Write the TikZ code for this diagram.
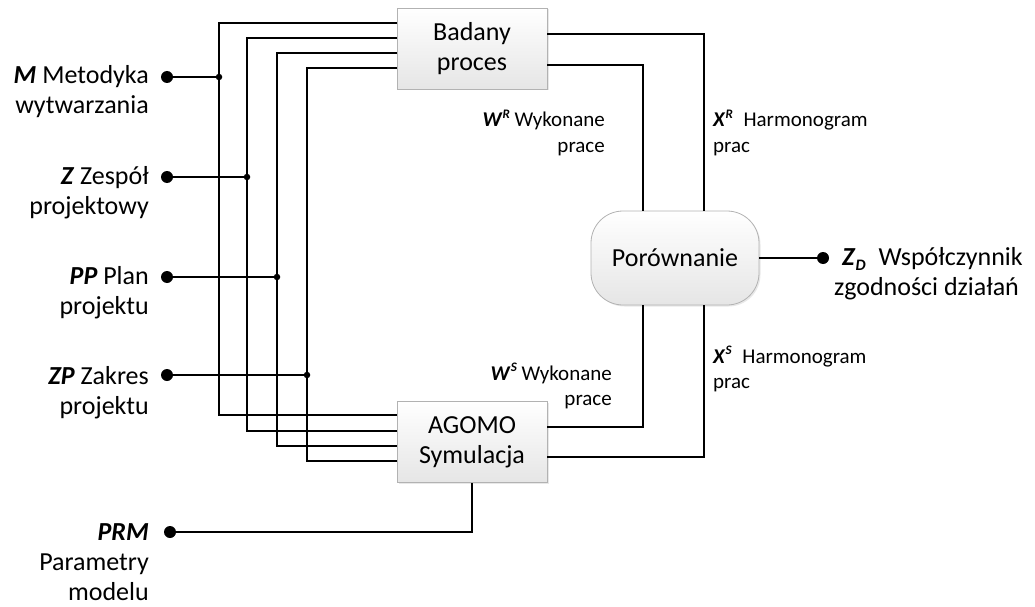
\documentclass[tikz,border=0pt]{standalone}
\usepackage{fontspec}
\setmainfont{Carlito}
\usetikzlibrary{shadows}
\newcommand\bitx[1]{\textbf{\textit{#1}}}
\newcommand\supx[1]{\raisebox{0.42em}{\fontsize{13}{13}\selectfont\bitx{#1}}}
\newcommand\subx[1]{\raisebox{-0.2em}{\fontsize{16}{16}\selectfont\bitx{#1}}}
\newcommand\rlines[1]{\begin{tabular}[t]{@{}r@{}}#1\end{tabular}}
\newcommand\llines[1]{\begin{tabular}[t]{@{}l@{}}#1\end{tabular}}
\begin{document}
\begin{tikzpicture}[x=1pt,y=-1pt,
  wire/.style={line width=2.2pt, line join=miter},
  blk/.style={draw=gray!60, line width=0.8pt, top color=white, bottom color=gray!20,
    minimum width=150pt, minimum height=81pt, inner sep=0pt, align=center,
    font=\fontsize{26}{30}\selectfont,
    drop shadow={opacity=0.18, shadow xshift=1.5pt, shadow yshift=-1.5pt}},
  cmp/.style={blk, minimum width=168pt, minimum height=94pt, rounded corners=32pt},
  term/.style={circle, fill=black, inner sep=0pt, minimum size=12pt},
  junc/.style={circle, fill=black, inner sep=0pt, minimum size=6.5pt},
  big/.style={inner sep=0pt, font=\fontsize{26}{30}\selectfont},
  small/.style={inner sep=0pt, font=\fontsize{21}{25.5}\selectfont}
]
\useasboundingbox (0,0) rectangle (1035,607);

% process blocks
\node[blk] (bad) at (472,48.5) {Badany\\proces};
\node[blk] (ago) at (472,442) {AGOMO\\Symulacja};
\node[cmp] (por) at (675,258) {Porównanie};

% input terminals and branch points
\node[term] (m)   at (167,77)  {};
\node[term] (z)   at (167,177) {};
\node[term] (pp)  at (167,277) {};
\node[term] (zp)  at (167,375) {};
\node[term] (prm) at (170,532) {};
\node[junc] (jm)  at (219,77)  {};
\node[junc] (jz)  at (247,177) {};
\node[junc] (jpp) at (277,277) {};
\node[junc] (jzp) at (307,375) {};
\node[term] (zd)  at (823,258) {};

% inputs feeding both the real process and the simulation
\draw[wire] (m) -- (jm);
\draw[wire] (bad.west |- 0,23) -| (jm) |- (ago.west |- 0,415);
\draw[wire] (z) -- (jz);
\draw[wire] (bad.west |- 0,38) -| (jz) |- (ago.west |- 0,431);
\draw[wire] (pp) -- (jpp);
\draw[wire] (bad.west |- 0,53) -| (jpp) |- (ago.west |- 0,446);
\draw[wire] (zp) -- (jzp);
\draw[wire] (bad.west |- 0,68) -| (jzp) |- (ago.west |- 0,461);
\draw[wire] (prm) -| (ago.south);

% outputs into the comparison block
\draw[wire] (bad.east |- 0,34) -| (por.north -| 704,0);
\draw[wire] (bad.east |- 0,65) -| (por.north -| 643,0);
\draw[wire] (ago.east |- 0,427) -| (por.south -| 643,0);
\draw[wire] (ago.east |- 0,457) -| (por.south -| 704,0);
\draw[wire] (por.east) -- (zd);

% input labels
\node[big, anchor=base east] (lm)   at (149,84)  {\rlines{\bitx{M} Metodyka\\wytwarzania}};
\node[big, anchor=base east] (lz)   at (149,184) {\rlines{\bitx{Z} Zespół\\projektowy}};
\node[big, anchor=base east] (lpp)  at (149,284) {\rlines{\bitx{PP} Plan\\projektu}};
\node[big, anchor=base east] (lzp)  at (149,384) {\rlines{\bitx{ZP} Zakres\\projektu}};
\node[big, anchor=base east] (lprm) at (149,540) {\rlines{\bitx{PRM}\\Parametry\\modelu}};

% signal labels
\node[small, anchor=base east] (lwr) at (605,127) {\rlines{\bitx{W}\supx{R} Wykonane\\prace}};
\node[small, anchor=base west] (lxr) at (713,127) {\llines{\bitx{X}\supx{R}\hspace{6pt} Harmonogram\\prac}};
\node[small, anchor=base east] (lws) at (612,380) {\rlines{\bitx{W}\supx{S} Wykonane\\prace}};
\node[small, anchor=base west] (lxs) at (713,363) {\llines{\bitx{X}\supx{S}\hspace{6pt} Harmonogram\\prac}};

% output label
\node[big, anchor=base west] (lzd) at (842,265) {\llines{\bitx{Z}\subx{D}\hspace{7pt} Współczynnik\\\hspace{-8pt}zgodności działań}};
\end{tikzpicture}
\end{document}
